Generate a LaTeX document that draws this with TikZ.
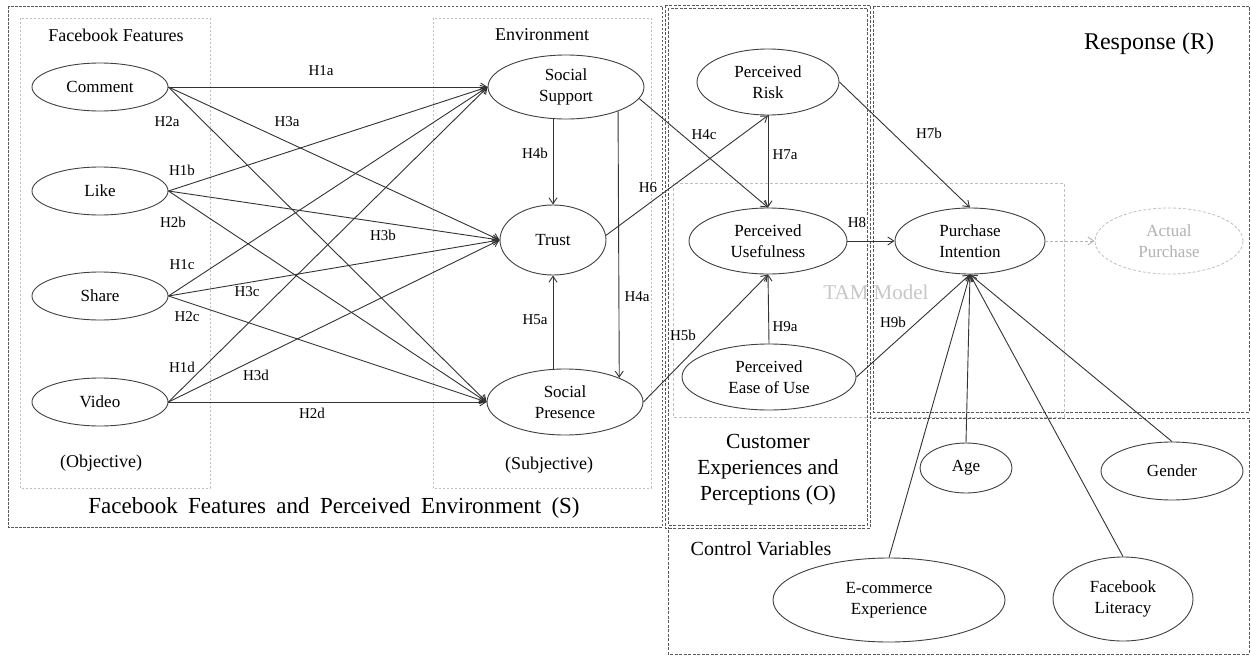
\documentclass[tikz,border=0pt]{standalone}
\usepackage{fontspec}
\setmainfont{Liberation Serif}
\newfontfamily\widefont[WordSpace=1.8]{Liberation Serif}
\usetikzlibrary{shapes.geometric,arrows.meta}
\begin{document}
\begin{tikzpicture}[x=1pt,y=-1pt,
  ell/.style={ellipse,draw=black!75,line width=0.9pt,inner sep=0pt,align=center,
    font=\fontsize{17}{20.5}\selectfont},
  lab/.style={font=\fontsize{15}{18}\selectfont,inner sep=0pt,text=black},
  head/.style={font=\fontsize{18}{21}\selectfont,inner sep=0pt,text=black},
  arr/.style={draw=black!80,line width=0.9pt,-{Straight Barb[length=6pt,width=8pt]}},
  graybox/.style={draw=black!25,line width=0.7pt,dash pattern=on 2pt off 2pt},
  outerbox/.style={draw=black!65,line width=0.8pt,dash pattern=on 2.5pt off 1.5pt},
  secbox/.style={draw=black!65,line width=0.9pt,dash pattern=on 3pt off 1.5pt},
]
\fill[white] (0,0) rectangle (1251,656);
\useasboundingbox (0,0) rectangle (1251,656);

% boxes
\draw[outerbox] (8,6) rectangle (662,527);
\draw[graybox] (20,18) rectangle (210,488);
\draw[graybox] (433,18) rectangle (651,488);
\draw[graybox,dash pattern=on 3pt off 2pt] (673,183) rectangle (1064,417);
\draw[secbox] (873,6) rectangle (1249,412);
\draw[secbox] (873,418) -- (1249,418) -- (1249,654) -- (668,654) -- (668,527);
\draw[secbox] (665,5) rectangle (870,528);
\draw[secbox,line width=0.7pt] (668,8) rectangle (867,525);

% box texts
\node[head] (tFF) at (116,35) {Facebook Features};
\node[head] (tEnv) at (542,35) {Environment};
\node[head] (tObj) at (101,463) {(Objective)};
\node[head] (tSubj) at (549,465) {(Subjective)};
\node[inner sep=0pt,font=\widefont\fontsize{23}{27}\selectfont,text=black] (tS) at (334,508) {Facebook Features and Perceived Environment (S)};
\node[inner sep=0pt,align=center,font=\fontsize{21.5}{26}\selectfont,text=black] (tO) at (768,470) {Customer\\Experiences and\\Perceptions (O)};
\node[inner sep=0pt,font=\fontsize{24}{28}\selectfont,text=black] (tR) at (1149,44) {Response (R)};
\node[inner sep=0pt,font=\fontsize{20}{24}\selectfont,text=black] (tC) at (761,549) {Control Variables};
\node[inner sep=0pt,font=\fontsize{21}{25}\selectfont,text=black!22] (tTAM) at (876,292) {TAM Model};

% nodes
\node[ell,minimum width=136pt,minimum height=48pt] (comment) at (100,87) {Comment};
\node[ell,minimum width=136pt,minimum height=48pt] (like) at (100,191) {Like};
\node[ell,minimum width=136pt,minimum height=48pt] (share) at (100,296) {Share};
\node[ell,minimum width=136pt,minimum height=48pt] (video) at (100,402) {Video};
\node[ell,minimum width=156pt,minimum height=64pt] (ss) at (566,87) {Social\\Support};
\node[ell,minimum width=106pt,minimum height=70pt] (trust) at (553,240) {Trust};
\node[ell,minimum width=156pt,minimum height=66pt] (sp) at (565,402) {Social\\Presence};
\node[ell,minimum width=142pt,minimum height=66pt] (risk) at (768,82) {Perceived\\Risk};
\node[ell,minimum width=158pt,minimum height=66pt] (pu) at (768,241) {Perceived\\Usefulness};
\node[ell,minimum width=174pt,minimum height=66pt] (peou) at (769,377) {Perceived\\Ease of Use};
\node[ell,minimum width=150pt,minimum height=66pt] (pi) at (970,241) {Purchase\\Intention};
\node[ell,draw=black!25,line width=0.8pt,dash pattern=on 3pt off 2pt,text=black!30,minimum width=148pt,minimum height=66pt] (ap) at (1169,241) {Actual\\Purchase};
\node[ell,minimum width=92pt,minimum height=50pt] (age) at (966,468) {Age};
\node[ell,minimum width=142pt,minimum height=58pt] (gender) at (1172,471) {Gender};
\node[ell,minimum width=232pt,minimum height=84pt] (ecom) at (889,600) {E-commerce\\Experience};
\node[ell,minimum width=140pt,minimum height=84pt] (lit) at (1123,599) {Facebook\\Literacy};

% edges: features -> environment
\foreach \s in {comment,like,share,video}{
  \draw[arr] (\s.east) -- (ss.west);
  \draw[arr] (\s.east) -- (trust.west);
  \draw[arr] (\s.east) -- (sp.west);
}
\draw[arr] (ss.south -| trust.north) -- (trust.north);
\draw[arr] (sp.north -| trust.south) -- (trust.south);
\draw[arr] (ss.-25) -- (sp.24.4);
\draw[arr] (ss.-9) -- (pu.north);
\draw[arr] (trust.5) -- (risk.south);
\draw[arr] (risk.south) -- (pu.north);
\draw[arr] (sp.east) -- (pu.south);
\draw[arr] (peou.north) -- (pu.south);
\draw[arr] (pu.east) -- (pi.west);
\draw[arr] (risk.east) -- (pi.north);
\draw[arr] (peou.east) -- (pi.south);
\draw[arr] (ecom.north) -- (pi.south);
\draw[arr] (age.north) -- (pi.south);
\draw[arr] (lit.north) -- (pi.south);
\draw[arr] (gender.north) -- (pi.south);
\draw[arr,draw=black!30,dash pattern=on 3pt off 2pt] (pi.east) -- (ap.west);

% labels
\node[lab] (lH1a) at (321,71) {H1a};
\node[lab] (lH2a) at (167,122) {H2a};
\node[lab] (lH3a) at (287,122) {H3a};
\node[lab] (lH1b) at (182,170) {H1b};
\node[lab] (lH2b) at (173,222) {H2b};
\node[lab] (lH3b) at (383,235) {H3b};
\node[lab] (lH1c) at (182,265) {H1c};
\node[lab] (lH3c) at (247,292) {H3c};
\node[lab] (lH2c) at (187,317) {H2c};
\node[lab] (lH1d) at (182,367) {H1d};
\node[lab] (lH3d) at (256,375) {H3d};
\node[lab] (lH2d) at (312,413) {H2d};
\node[lab] (lH4b) at (535,153) {H4b};
\node[lab] (lH5a) at (535,320) {H5a};
\node[lab] (lH4a) at (637,297) {H4a};
\node[lab] (lH4c) at (704,135) {H4c};
\node[lab] (lH6) at (648,188) {H6};
\node[lab] (lH7a) at (785,155) {H7a};
\node[lab] (lH5b) at (683,335) {H5b};
\node[lab] (lH9a) at (785,327) {H9a};
\node[lab] (lH8) at (857,223) {H8};
\node[lab] (lH7b) at (929,133) {H7b};
\node[lab] (lH9b) at (893,322) {H9b};
\end{tikzpicture}
\end{document}
